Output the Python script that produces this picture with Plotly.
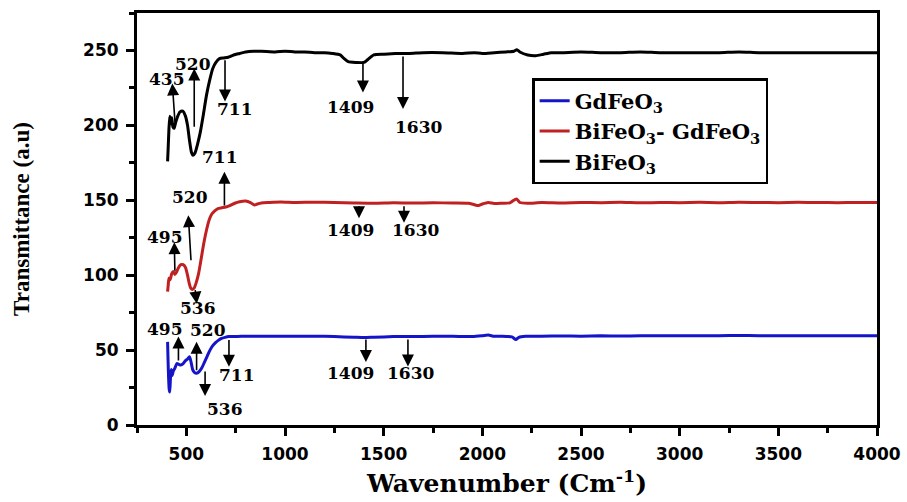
import plotly.graph_objects as go

# ---------------- data ----------------
wn_bfo = [405, 408, 412, 416, 420, 426, 432, 438, 446, 456, 468, 482, 496, 506, 516, 526, 534, 544, 556, 570,
          586, 602, 618, 634, 650, 668, 690, 712, 740, 770, 800, 840, 880, 950, 1000, 1050, 1100, 1150, 1200,
          1240, 1280, 1300, 1320, 1360, 1400, 1420, 1450, 1500, 1560, 1630, 1700, 1800, 1900, 1960, 2000, 2060,
          2120, 2160, 2175, 2190, 2230, 2270, 2310, 2350, 2400, 2500, 2600, 2700, 2800, 2900, 3000, 3100, 3200,
          3300, 3400, 3500, 3600, 3700, 3800, 3900, 4000]
t_bfo = [176, 185, 198, 206, 201, 205, 199, 198, 202, 206, 209, 209.5, 206, 200, 190, 182, 180, 181.5, 187, 195,
         207, 220, 230, 238, 242, 244.5, 245, 245.5, 247, 248, 249, 249.5, 249.5, 249, 249.5, 249, 249, 248.5, 248.5,
         248, 247, 244.5, 242.5, 242, 242, 244, 247, 247.5, 248, 248, 248.5, 248.5, 248, 248.5, 248, 248.5,
         249, 249.5, 250.5, 249, 247, 246.5, 247.5, 248.5, 248.5, 249, 248.5, 248.5, 249, 248.5, 248.5, 248.5, 248.5,
         249, 248.5, 248.5, 248.5, 248.5, 248.5, 248.5, 248.5]

wn_bgf = [405, 408, 412, 418, 426, 434, 442, 450, 460, 472, 484, 496, 506, 514, 522, 530, 540, 550, 562, 574,
          588, 602, 616, 630, 644, 660, 680, 700, 720, 745, 770, 800, 825, 845, 860, 880, 920, 980, 1050, 1150,
          1250, 1350, 1450, 1550, 1650, 1750, 1850, 1930, 1960, 1980, 2000, 2030, 2060, 2100, 2140, 2165, 2175,
          2190, 2230, 2300, 2400, 2500, 2600, 2700, 2800, 2900, 3000, 3100, 3200, 3300, 3400, 3500, 3600, 3700,
          3800, 3900, 4000]
t_bgf = [89, 93, 98, 97, 101, 102.5, 100.5, 102, 105, 107, 107, 105, 100, 95, 91.5, 90.5, 91.5, 95, 101, 110,
         121, 130, 137, 141, 143, 144.5, 145, 145.5, 146.5, 148, 149, 149.5, 148.5, 146.8, 147.5, 148.2, 148.5,
         148.8, 148.5, 148.7, 148.5, 148.2, 148, 148.3, 148.2, 148.3, 148.2, 148, 147, 146.5, 147.5, 148.5, 147.8,
         148, 148.3, 150.5, 150.8, 148.5, 148, 148.5, 148.2, 148.5, 148.4, 148.6, 148.3, 148.5, 148.4, 148.6,
         148.4, 148.7, 148.5, 148.4, 148.6, 148.5, 148.4, 148.5, 148.5]

wn_gfo = [405, 407, 410, 413, 416, 419, 423, 428, 434, 442, 452, 462, 472, 484, 496, 506, 516, 524, 532, 542,
          552, 564, 578, 592, 606, 620, 634, 648, 662, 678, 696, 716, 740, 780, 850, 950, 1050, 1150, 1250, 1350,
          1400, 1450, 1550, 1650, 1750, 1850, 1950, 2000, 2030, 2060, 2100, 2150, 2170, 2185, 2220, 2300, 2400,
          2500, 2600, 2700, 2800, 2900, 3000, 3100, 3200, 3300, 3400, 3500, 3600, 3700, 3800, 3900, 4000]
t_gfo = [55.5, 45, 32, 24, 22, 30, 37, 33, 36, 38, 41, 40.5, 40, 41, 43, 44, 45.5, 42, 37, 35,
         34.5, 35.5, 38, 42, 46, 50, 53, 55, 56.5, 57.8, 58.5, 59, 59, 59.3, 59.3, 59.3, 59.2, 59.3, 59, 58.6,
         58.4, 58.6, 59, 59.1, 59.2, 59.2, 59.1, 59.6, 60, 59.2, 59.3, 58.8, 57, 58.5, 59.2, 59.3, 59.4,
         59.3, 59.5, 59.4, 59.5, 59.6, 59.5, 59.6, 59.6, 59.8, 59.6, 59.5, 59.6, 59.5, 59.5, 59.5, 59.5]

series_names = ["GdFeO<sub>3</sub>", "BiFeO<sub>3</sub>- GdFeO<sub>3</sub>", "BiFeO<sub>3</sub>"]
series_colors = ["#1414c8", "#c02020", "#000000"]

x_major_ticks = [500, 1000, 1500, 2000, 2500, 3000, 3500, 4000]
x_minor_ticks = [250, 750, 1250, 1750, 2250, 2750, 3250, 3750]
y_major_ticks = [0, 50, 100, 150, 200, 250]
y_minor_ticks = [25, 75, 125, 175, 225, 275]

# peak labels: text, text position (x, y)
label_text = ["435", "520", "711", "1409", "1630",
              "711", "520", "495", "536", "1409", "1630",
              "495", "520", "536", "711", "1409", "1630"]
label_x = [404, 536, 747, 1330, 1679,
           671, 519, 392, 561, 1330, 1659,
           391, 611, 696, 755, 1330, 1634]
label_y = [231, 241, 211, 212, 199,
           179, 152, 125.5, 77.8, 130, 130,
           64, 63.5, 11, 33.5, 35, 35]

# arrows: tail (x, y) -> head (x, y)
arrow_tail_x = [443, 540, 696, 1395, 1598,
                693, 524, 442, 544, 1375, 1603,
                460, 552, 595, 716, 1410, 1623]
arrow_tail_y = [201, 198, 244.5, 242, 247,
                145.5, 109, 102, 91, 147, 147,
                42, 35.5, 36.7, 57.8, 58, 58]
arrow_head_x = [429, 540, 696, 1395, 1598,
                693, 510, 439, 553, 1375, 1603,
                460, 552, 595, 716, 1410, 1623]
arrow_head_y = [228, 238, 216, 222, 211,
                169, 140, 122, 81, 138, 135,
                59, 55.5, 19.3, 38.9, 42, 39]

# ---------------- figure ----------------
fig = go.Figure()
for wn, t, name, col in zip([wn_gfo, wn_bgf, wn_bfo], [t_gfo, t_bgf, t_bfo], series_names, series_colors):
    fig.add_trace(go.Scatter(x=wn, y=t, mode="lines", name=name,
                             line=dict(color=col, width=3, shape="spline", smoothing=0.6)))

ann_font = dict(family="DejaVu Serif", size=17, color="black", weight="bold")
for tx, ty, hx, hy in zip(arrow_tail_x, arrow_tail_y, arrow_head_x, arrow_head_y):
    fig.add_annotation(x=hx, y=hy, ax=tx, ay=ty, xref="x", yref="y", axref="x", ayref="y",
                       text="", showarrow=True, arrowhead=2, arrowsize=1.5, arrowwidth=1.6,
                       arrowcolor="black", standoff=0, startstandoff=0)
for txt, lx, ly in zip(label_text, label_x, label_y):
    fig.add_annotation(x=lx, y=ly, xref="x", yref="y", text=txt, showarrow=False,
                       font=ann_font, xanchor="center", yanchor="middle")

tick_font = dict(family="DejaVu Sans", size=17, color="black", weight="bold")
fig.update_xaxes(range=[250, 4000], tickmode="array", tickvals=x_major_ticks, automargin=False,
                 ticks="outside", ticklen=8, tickwidth=3, ticklabelstandoff=4,
                 tickcolor="black", showline=True, linewidth=3, linecolor="black", mirror=True,
                 showgrid=False, zeroline=False, tickfont=tick_font,
                 minor=dict(tickmode="array", tickvals=x_minor_ticks, ticks="outside", ticklen=5,
                            tickwidth=3, tickcolor="black", showgrid=False),
                 title=dict(text="Wavenumber (Cm<sup>-1</sup>)", standoff=12,
                            font=dict(family="DejaVu Serif", size=25, color="black", weight="bold")))
fig.update_yaxes(range=[0, 275], tickmode="array", tickvals=y_major_ticks, automargin=False,
                 ticks="outside", ticklen=8, tickwidth=3, ticklabelstandoff=4,
                 tickcolor="black", showline=True, linewidth=3, linecolor="black", mirror=True,
                 showgrid=False, zeroline=False, tickfont=tick_font,
                 minor=dict(tickmode="array", tickvals=y_minor_ticks, ticks="outside", ticklen=5,
                            tickwidth=3, tickcolor="black", showgrid=False),
                 title=dict(text="Transmittance (a.u)", standoff=48,
                            font=dict(family="Liberation Serif", size=23, color="black", weight="bold")))

fig.update_layout(
    width=907, height=502,
    margin=dict(l=137, r=30, t=13, b=77),
    paper_bgcolor="white", plot_bgcolor="white",
    showlegend=True,
    legend=dict(x=0.534, y=0.842, xanchor="left", yanchor="top",
                bordercolor="black", borderwidth=2.5, bgcolor="white",
                font=dict(family="DejaVu Serif", size=21, color="black", weight="bold"),
                tracegroupgap=0, itemwidth=30),
)
fig.write_html("out.html")
